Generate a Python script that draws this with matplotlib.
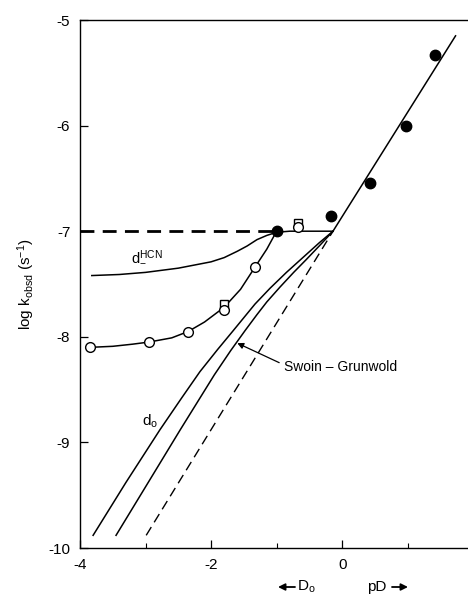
import matplotlib.pyplot as plt
import matplotlib as mpl

mpl.rcParams['font.family'] = ['Liberation Sans', 'DejaVu Sans']
mpl.rcParams['mathtext.fontset'] = 'custom'
mpl.rcParams['mathtext.rm'] = 'Liberation Sans'
mpl.rcParams['mathtext.it'] = 'Liberation Sans'

# measured rates
filled_x = [-1.0, -0.17, 0.43, 0.97, 1.42]
filled_y = [-7.0, -6.86, -6.54, -6.0, -5.33]
open_x = [-3.85, -2.95, -2.35, -1.8, -1.33, -0.67]
open_y = [-8.10, -8.05, -7.95, -7.75, -7.34, -6.96]
square_x = [-1.8, -0.67]
square_y = [-7.69, -6.92]

# calculated curves
hcn_x = [-3.82, -3.4, -3.0, -2.5, -2.0, -1.8, -1.6, -1.45, -1.3, -1.15, -1.0, -0.8, -0.6, -0.14]
hcn_y = [-7.42, -7.41, -7.39, -7.35, -7.29, -7.25, -7.19, -7.14, -7.08, -7.04, -7.01, -7.0, -7.0, -7.0]
fit_x = [-3.85, -3.5, -3.2, -2.95, -2.6, -2.35, -2.1, -1.8, -1.55, -1.33, -1.15, -1.0]
fit_y = [-8.10, -8.09, -8.07, -8.05, -8.01, -7.95, -7.86, -7.72, -7.55, -7.34, -7.17, -7.0]
do_x = [-3.80, -3.3, -2.78, -2.45, -2.17, -1.9, -1.66, -1.33, -1.1, -0.85, -0.6, -0.35, -0.14]
do_y = [-9.88, -9.38, -8.88, -8.58, -8.33, -8.12, -7.94, -7.69, -7.54, -7.39, -7.25, -7.11, -7.0]
sg_x = [-3.45, -2.95, -2.47, -1.95, -1.7, -1.48, -1.3, -1.15, -0.95, -0.74, -0.55, -0.35, -0.14]
sg_y = [-9.88, -9.37, -8.88, -8.36, -8.13, -7.94, -7.79, -7.67, -7.53, -7.39, -7.27, -7.14, -7.0]
dash_x = [-2.99, -0.14]
dash_y = [-9.88, -7.0]
right_x = [-0.14, 1.73]
right_y = [-7.0, -5.15]
plateau_x = [-4.0, -1.0]
plateau_y = [-7.0, -7.0]

yticks = [-10, -9, -8, -7, -6, -5]
ytick_labels = ['-10', '-9', '-8', '-7', '-6', '-5']
xticks = [-4, -2, 0]
xtick_labels = ['-4', '-2', '0']

fig = plt.figure(figsize=(4.68, 5.98), dpi=100)
ax = fig.add_axes([80 / 468, 50 / 598, 1 - 80 / 468, 528 / 598])

lw = 1.1
ax.plot(hcn_x, hcn_y, color='black', lw=lw)
ax.plot(fit_x, fit_y, color='black', lw=lw)
ax.plot(do_x, do_y, color='black', lw=lw)
ax.plot(sg_x, sg_y, color='black', lw=lw)
ax.plot(dash_x, dash_y, color='black', lw=1.0, dashes=(7, 4))
ax.plot(right_x, right_y, color='black', lw=lw)
ax.plot(plateau_x, plateau_y, color='black', lw=2.0, dashes=(5, 3))

ax.plot(square_x, square_y, 's', ms=6, mfc='white', mec='black', mew=1.0)
ax.plot(open_x, open_y, 'o', ms=7, mfc='white', mec='black', mew=1.0)
ax.plot(filled_x, filled_y, 'o', ms=7.5, color='black')

ax.text(-3.22, -7.24, r'd$_{-}^{\mathrm{HCN}}$', fontsize=10.5, ha='left', va='center')
ax.text(-3.06, -8.80, r'd$_{\mathrm{o}}$', fontsize=11, ha='left', va='center')
ax.annotate('Swoin – Grunwold', xy=(-1.6, -8.06), xytext=(-0.88, -8.29),
            fontsize=10, ha='left', va='center',
            arrowprops=dict(arrowstyle='-|>', color='black', lw=0.9,
                            mutation_scale=9, shrinkA=2, shrinkB=0,
                            connectionstyle='angle,angleA=0,angleB=155,rad=0'))

ax.set_xlim(-4, 1.92)
ax.set_ylim(-10, -5)
ax.set_yticks(yticks)
ax.set_yticklabels(ytick_labels)
ax.set_xticks(xticks)
ax.set_xticklabels(xtick_labels)
ax.set_xticks([-3, -1, 1], minor=True)
ax.tick_params(axis='both', which='major', direction='in', length=6, width=0.9,
               labelsize=11, pad=7)
ax.tick_params(axis='x', which='minor', direction='in', length=3.5, width=0.8)
ax.spines['right'].set_visible(False)
for s in ['left', 'bottom', 'top']:
    ax.spines[s].set_linewidth(1.0)

ax.set_ylabel(r'log k$_{\mathrm{obsd}}$ (s$^{-1}$)', fontsize=11, labelpad=8)

# direction labels under the x axis
arrow_kw = dict(arrowstyle='-|>', color='black', lw=1.3, mutation_scale=10,
                shrinkA=0, shrinkB=0)
ax.annotate('', xy=(278, 11), xytext=(295, 11), xycoords='figure pixels',
            textcoords='figure pixels', arrowprops=arrow_kw)
ax.annotate('', xy=(408, 11), xytext=(392, 11), xycoords='figure pixels',
            textcoords='figure pixels', arrowprops=arrow_kw)
fig.text(297 / 468, 11 / 598, 'D$_{\\mathrm{o}}$', fontsize=11, ha='left', va='center')
fig.text(367 / 468, 11 / 598, 'pD', fontsize=11, ha='left', va='center')

fig.savefig('out.png', dpi=100)
